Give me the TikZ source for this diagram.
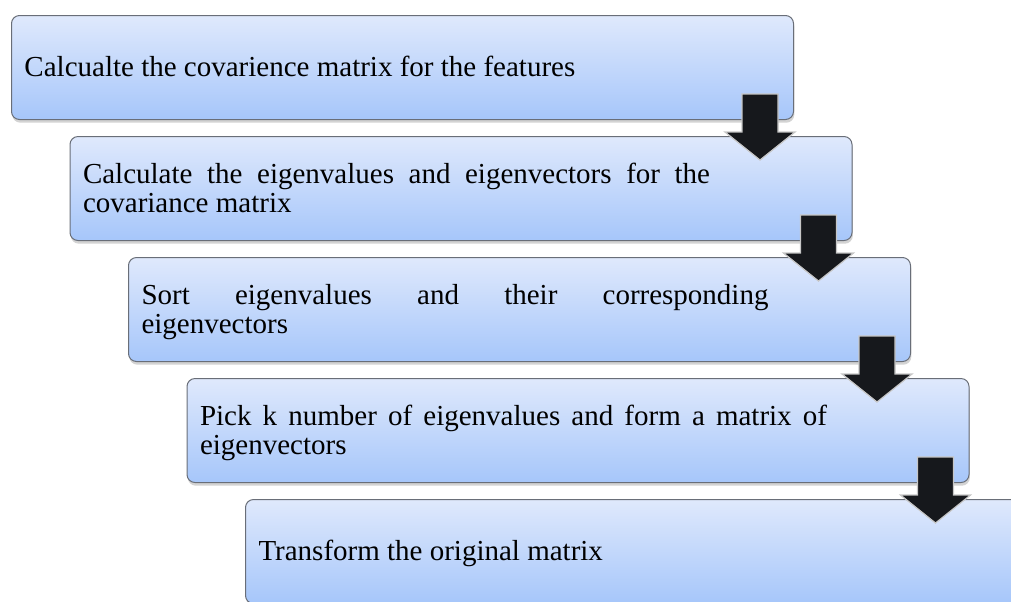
\documentclass[tikz,border=0pt]{standalone}
\usepackage{fontspec}
\setmainfont{Liberation Serif}
\usetikzlibrary{shadows, calc}
\definecolor{boxtop}{RGB}{223,233,252}
\definecolor{boxbot}{RGB}{166,198,250}
\definecolor{boxline}{RGB}{105,110,120}
\definecolor{arrowfill}{RGB}{22,24,28}
\newcommand{\boxfont}{\fontsize{14.5}{14.75}\selectfont
  \leftskip=0pt \rightskip=0pt \spaceskip=0pt \xspaceskip=0pt
  \parfillskip=0pt plus 1fil \hyphenpenalty=10000 \tolerance=9999\relax}
% justified text of one box
\newcommand{\steptext}[1]{\parbox{313.5pt}{\vspace*{3.5pt}\boxfont\strut #1\strut}}

\begin{document}
\begin{tikzpicture}[
  x=0.5pt, y=-0.5pt,
  stepbox/.style={draw=boxline, line width=0.5pt, rounded corners=4pt,
                  top color=boxtop, bottom color=boxbot,
                  minimum width=391pt, minimum height=52pt,
                  inner xsep=6.5pt, inner ysep=0pt, text width=378pt,
                  align=left, anchor=north west,
                  drop shadow={opacity=0.35, shadow xshift=0.4pt, shadow yshift=-1.6pt}},
  blockarrow/.style={fill=arrowfill, draw=gray!45, line width=0.6pt}
]
  \useasboundingbox (0,0) rectangle (1011,601);
  \clip (0,0) rectangle (1011,601);
  \node[stepbox] (b1) at (11, 15)    {\steptext{Calcualte the covarience matrix for the features}};
  \node[stepbox] (b2) at (69.5, 136) {\steptext{Calculate the eigenvalues and eigenvectors for the\linebreak covariance matrix}};
  \node[stepbox] (b3) at (128, 257)  {\steptext{Sort eigenvalues and their corresponding\linebreak eigenvectors}};
  \node[stepbox] (b4) at (186.5, 378) {\steptext{Pick k number of eigenvalues and form a matrix of\linebreak eigenvectors}};
  \node[stepbox] (b5) at (245, 499)  {\steptext{Transform the original matrix}};
  % arrows from each box down into the next one
  \foreach \b in {b1, b2, b3, b4}
    \draw[blockarrow] ($(\b.south east)+(-52,-26)$) -- ++(36,0) -- ++(0,38)
      -- ++(17,0) -- ++(-35,28) -- ++(-35,-28) -- ++(17,0) -- cycle;
\end{tikzpicture}
\end{document}
